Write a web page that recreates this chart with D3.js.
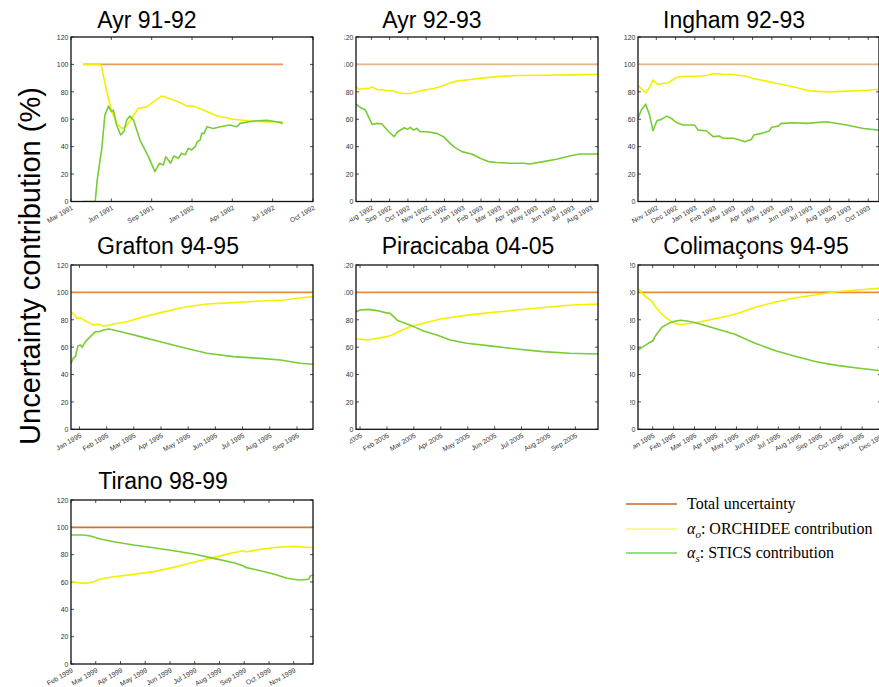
<!DOCTYPE html>
<html><head><meta charset="utf-8">
<script src="https://cdn.jsdelivr.net/npm/d3@7"></script>
<style>
html,body{margin:0;padding:0;background:#fff;}
svg{display:block;}
</style></head>
<body>
<script>
// ---------------- DATA ----------------
// x values are expressed in "tick units": 0 = first labelled tick, 1 = second, ...
const titles = ["Ayr 91-92","Ayr 92-93","Ingham 92-93","Grafton 94-95","Piracicaba 04-05","Colimaçons 94-95","Tirano 98-99"];

const tickLabels = [
  ["Mar 1991","Jun 1991","Sep 1991","Jan 1992","Apr 1992","Jul 1992","Oct 1992"],
  ["Aug 1992","Sep 1992","Oct 1992","Nov 1992","Dec 1992","Jan 1993","Feb 1993","Mar 1993","Apr 1993","May 1993","Jun 1993","Jul 1993","Aug 1993"],
  ["Nov 1992","Dec 1992","Jan 1993","Feb 1993","Mar 1993","Apr 1993","May 1993","Jun 1993","Jul 1993","Aug 1993","Sep 1993","Oct 1993"],
  ["Jan 1995","Feb 1995","Mar 1995","Apr 1995","May 1995","Jun 1995","Jul 1995","Aug 1995","Sep 1995"],
  ["Jan 2005","Feb 2005","Mar 2005","Apr 2005","May 2005","Jun 2005","Jul 2005","Aug 2005","Sep 2005"],
  ["Jan 1995","Feb 1995","Mar 1995","Apr 1995","May 1995","Jun 1995","Jul 1995","Aug 1995","Sep 1995","Oct 1995","Nov 1995","Dec 1995"],
  ["Feb 1999","Mar 1999","Apr 1999","May 1999","Jun 1999","Jul 1999","Aug 1999","Sep 1999","Oct 1999","Nov 1999"]
];
const xExtents = [[0,6],[-0.84,12.4],[-0.95,11.56],[-0.31,8.59],[-0.15,8.84],[-0.70,10.9],[0,9.78]];
const yTicks = [0,20,40,60,80,100,120];

const totalUncertainty = [
  [[0.3,100],[5.26,100]],
  [[-0.84,100],[12.4,100]],
  [[-0.95,100],[11.56,100]],
  [[-0.31,100],[8.59,100]],
  [[-0.15,100],[8.84,100]],
  [[-0.70,100],[10.9,100]],
  [[0,100],[9.78,100]]
];

const orchidee = [
  // Ayr 91-92
  [[0.3,100],[0.72,100],[0.76,98],[0.88,81],[1.0,66.7],[1.13,57],[1.26,53.3],[1.38,55],[1.5,60.6],[1.67,68],[1.88,69],[2.04,72.7],[2.25,77],[2.45,75],[2.66,72.7],[2.87,69.6],[3.03,69.6],[3.28,66.7],[3.61,62.5],[4.02,60],[4.44,58.7],[4.85,58],[5.25,58.4]],
  // Ayr 92-93
  [[-0.84,83.6],[-0.69,81.7],[-0.42,82.4],[-0.15,82.4],[0.04,83.6],[0.31,81.7],[0.76,81.2],[1.22,80.5],[1.67,78.8],[2.13,78.8],[2.49,80],[2.85,81.2],[3.4,82.4],[3.85,84.1],[4.22,86.1],[4.67,87.8],[5.4,89],[6.13,90.2],[6.85,91.1],[7.95,91.9],[9.4,92.1],[11.04,92.4],[12.4,92.8]],
  // Ingham 92-93
  [[-0.95,84.8],[-0.78,82.4],[-0.55,79.3],[-0.35,83.1],[-0.17,88.5],[0.09,85.3],[0.35,86.1],[0.61,86.5],[0.87,89],[1.13,90.9],[1.56,91.4],[2.08,91.4],[2.6,91.9],[2.95,93.3],[3.47,92.8],[3.99,92.6],[4.68,91.4],[5.03,89.7],[5.72,87.8],[6.24,86.1],[6.76,84.8],[7.45,82.4],[7.97,80.7],[8.84,80],[9.88,80.5],[10.92,81.2],[11.56,81.9]],
  // Grafton 94-95
  [[-0.31,86],[-0.21,84.2],[-0.09,81],[0.04,81.5],[0.16,79.8],[0.34,77.9],[0.53,76.2],[0.71,76.7],[0.89,75.5],[1.08,75.9],[1.26,76.9],[1.75,78.6],[2.24,81.5],[2.98,85.2],[3.84,89.1],[4.69,91.5],[5.67,92.5],[6.65,93.7],[7.51,94.4],[8.12,95.9],[8.59,96.9]],
  // Piracicaba 04-05
  [[-0.15,66],[0.07,65.7],[0.26,65.2],[0.63,66.4],[1.0,67.7],[1.19,68.9],[1.49,71.8],[1.86,75],[2.36,77.4],[2.98,80.6],[3.84,83],[4.83,85.2],[5.81,87.1],[6.93,89.1],[7.91,90.8],[8.84,91.5]],
  // Colimaçons 94-95
  [[-0.70,103],[-0.53,99.8],[-0.29,96.4],[-0.05,93.7],[0.11,90.1],[0.36,85.2],[0.68,81],[0.92,78.6],[1.17,76.7],[1.49,76.7],[1.82,77.4],[2.3,78.6],[2.95,80.8],[3.6,82.8],[4.08,84.7],[4.89,89.1],[5.87,93],[6.84,96.1],[7.81,98.3],[8.78,100.5],[9.76,101.7],[10.9,103]],
  // Tirano 98-99
  [[0,60.2],[0.31,59.5],[0.58,59],[0.92,60.2],[1.19,62.2],[1.73,63.9],[2.53,65.6],[3.34,67.6],[4.15,70.7],[4.96,74.4],[5.77,78],[6.58,81.5],[6.98,82.9],[7.05,82],[7.65,83.9],[8.33,85.4],[9.0,86.1],[9.78,85.1]]
];

const stics = [
  // Ayr 91-92
  [[0.3,0],[0.6,0],[0.65,15.8],[0.72,30],[0.76,37.6],[0.84,63],[0.93,69.6],[1.0,65.5],[1.05,66.7],[1.13,55.8],[1.23,48.5],[1.31,51],[1.38,59.4],[1.46,62.3],[1.55,59.4],[1.71,44.8],[1.92,32.7],[2.08,21.8],[2.19,27.9],[2.29,26.7],[2.35,32.7],[2.47,27.9],[2.55,33.2],[2.66,31.5],[2.74,35.2],[2.83,34],[2.91,38.8],[2.99,37.6],[3.08,40],[3.13,43.6],[3.2,44.8],[3.24,49.7],[3.3,49.7],[3.37,54.5],[3.53,53.3],[3.7,54.5],[3.94,55.8],[4.11,54.5],[4.19,57],[4.52,58.7],[4.85,59.2],[5.1,58.2],[5.25,57]],
  // Ayr 92-93
  [[-0.84,71],[-0.6,68.6],[-0.33,66.7],[0.04,56.2],[0.31,57],[0.58,56.5],[0.95,50.9],[1.25,47.3],[1.44,50.9],[1.8,53.8],[1.98,52.6],[2.13,54.1],[2.31,52.1],[2.49,53.3],[2.67,50.9],[3.04,50.9],[3.58,49.7],[3.95,47.3],[4.31,42.4],[4.58,39.3],[4.95,36.4],[5.49,34.7],[5.95,31.5],[6.4,29.1],[6.85,28.4],[7.58,27.9],[8.31,27.9],[8.67,27.4],[9.4,29.1],[10.13,30.8],[10.85,33.2],[11.4,34.7],[12.4,34.7]],
  // Ingham 92-93
  [[-0.95,60.6],[-0.78,66.7],[-0.55,71],[-0.35,63],[-0.17,51.6],[0.03,58.9],[0.26,59.9],[0.55,62.3],[0.78,60.6],[1.04,57.7],[1.39,55.8],[1.99,55.8],[2.17,52.1],[2.6,51.6],[2.95,47.3],[3.29,47.7],[3.47,46.1],[3.99,46.1],[4.33,44.8],[4.59,43.6],[4.94,45.3],[5.06,48.5],[5.46,49.7],[5.86,51.4],[5.98,54.1],[6.33,55],[6.5,57],[7.11,57.5],[7.8,57],[8.84,58.2],[9.88,55.8],[10.75,53.3],[11.56,52.1]],
  // Grafton 94-95
  [[-0.31,48.2],[-0.23,51.8],[-0.15,53],[-0.06,60.8],[0.04,61.6],[0.1,59.9],[0.22,64],[0.4,67.7],[0.59,71.3],[0.71,71.3],[0.89,72.5],[1.08,73.3],[1.26,72.5],[1.75,70.1],[2.24,67.7],[2.98,64],[3.84,59.6],[4.69,55.5],[5.67,53.1],[6.65,51.8],[7.39,50.6],[8.12,48.2],[8.59,47.5]],
  // Piracicaba 04-05
  [[-0.15,85.9],[0.01,87.1],[0.32,87.6],[0.63,86.7],[0.94,85.2],[1.12,84.7],[1.4,79.4],[1.62,77.9],[1.99,75],[2.36,71.8],[2.85,68.9],[3.35,65.2],[3.96,62.8],[4.83,60.9],[5.81,58.7],[6.8,56.7],[7.79,55.5],[8.84,55]],
  // Colimaçons 94-95
  [[-0.70,57.9],[-0.45,60.4],[-0.21,62.8],[0,64.5],[0.16,68.9],[0.44,74.5],[0.76,77.4],[1.09,79.1],[1.33,79.6],[1.65,79.1],[2.14,77.4],[2.95,73.8],[3.92,69.4],[4.89,62.8],[5.87,57.4],[6.84,53.1],[7.81,49.4],[8.78,46.7],[9.76,44.8],[10.9,42.8]],
  // Tirano 98-99
  [[0,94.4],[0.51,94.4],[0.78,93.7],[1.19,91.5],[1.73,89.5],[2.53,87.1],[3.34,85.1],[4.15,82.9],[4.96,80.5],[5.77,77.3],[6.58,74.1],[6.98,71.7],[7.05,70.7],[7.65,68.3],[8.19,65.9],[8.73,62.7],[9.2,61.5],[9.61,62],[9.68,64.6],[9.78,64.9]]
];

const legendLabels = ["Total uncertainty","ORCHIDEE contribution","STICS contribution"];
const yAxisLabel = "Uncertainty contribution (%)";

// ---------------- LAYOUT / STYLE ----------------
const W = 879, H = 687;
const panels = [
  {x0:71, x1:313, y0:37, y1:201.5, titleX:147, titleY:28, clipY:0, clipX:0, orange:"#ea9a5e"},
  {x0:356, x1:598, y0:37, y1:201.5, titleX:432, titleY:28, clipY:344.5, clipX:349.5, orange:"#e8b48a"},
  {x0:638, x1:879, y0:37, y1:201.5, titleX:734, titleY:28, clipY:0, clipX:0, orange:"#e8b48a"},
  {x0:71, x1:313, y0:265, y1:429.3, titleX:168, titleY:254, clipY:0, clipX:0, orange:"#ec8a3a"},
  {x0:356, x1:598, y0:265, y1:429.3, titleX:468, titleY:254, clipY:344.5, clipX:350, orange:"#ec8a3a"},
  {x0:638, x1:881, y0:265, y1:429.3, titleX:756, titleY:254, clipY:630, clipX:633, orange:"#ec8a3a"},
  {x0:71, x1:313, y0:500, y1:664, titleX:163, titleY:489, clipY:0, clipX:0, orange:"#c8782c"}
];
const YELLOW = "#f2f000", GREEN = "#78cc34";

const svg = d3.select("body").append("svg").attr("width", W).attr("height", H)
  .style("font-family","'Liberation Sans', Arial, sans-serif");
const defs = svg.append("defs");

panels.forEach((p, i) => {
  const x = d3.scaleLinear().domain(xExtents[i]).range([p.x0, p.x1]);
  const y = d3.scaleLinear().domain([0,120]).range([p.y1, p.y0]);
  const g = svg.append("g");

  defs.append("clipPath").attr("id","plot"+i).append("rect")
    .attr("x",p.x0).attr("y",p.y0-1).attr("width",p.x1-p.x0).attr("height",p.y1-p.y0+1);
  defs.append("clipPath").attr("id","labx"+i).append("rect")
    .attr("x",p.clipX).attr("y",0).attr("width",W).attr("height",H);
  defs.append("clipPath").attr("id","laby"+i).append("rect")
    .attr("x",p.clipY).attr("y",0).attr("width",W).attr("height",H);

  // title
  g.append("text").attr("x",p.titleX).attr("y",p.titleY).attr("text-anchor","middle")
    .attr("font-size",23).attr("fill","#000").text(titles[i]);

  const ticks = d3.range(tickLabels[i].length);

  // x axis (bottom) labels via d3 axis
  const xAxis = d3.axisBottom(x).tickValues(ticks).tickSize(0).tickPadding(0)
    .tickFormat(d => tickLabels[i][d]);
  const xa = g.append("g").attr("clip-path","url(#labx"+i+")")
    .append("g").attr("transform",`translate(0,${p.y1})`).call(xAxis);
  xa.select(".domain").remove();
  xa.selectAll("text").attr("font-size",6.8).attr("fill","#333")
    .attr("font-family","'Liberation Sans', Arial, sans-serif")
    .attr("text-anchor","end").attr("dy",null).attr("y",null)
    .attr("transform","translate(2,7.5) rotate(-30)");

  // y axis labels
  const yAxis = d3.axisLeft(y).tickValues(yTicks).tickSize(0).tickPadding(2.5);
  const ya = g.append("g").attr("clip-path","url(#laby"+i+")")
    .append("g").attr("transform",`translate(${p.x0},0)`).call(yAxis);
  ya.select(".domain").remove();
  ya.selectAll("text").attr("font-size",7).attr("fill","#333")
    .attr("font-family","'Liberation Sans', Arial, sans-serif");

  // inward tick marks on all four sides
  const tk = g.append("g").attr("stroke","#222").attr("stroke-width",0.8);
  ticks.forEach(t => {
    const xx = x(t);
    if (xx < p.x0-0.5 || xx > p.x1+0.5) return;
    tk.append("line").attr("x1",xx).attr("x2",xx).attr("y1",p.y1).attr("y2",p.y1-3);
    tk.append("line").attr("x1",xx).attr("x2",xx).attr("y1",p.y0).attr("y2",p.y0+3);
  });
  yTicks.forEach(v => {
    const yy = y(v);
    tk.append("line").attr("x1",p.x0).attr("x2",p.x0+3).attr("y1",yy).attr("y2",yy);
    tk.append("line").attr("x1",p.x1).attr("x2",p.x1-3).attr("y1",yy).attr("y2",yy);
  });

  // series
  const line = d3.line().x(d => x(d[0])).y(d => y(d[1]));
  const pg = g.append("g").attr("clip-path","url(#plot"+i+")").attr("fill","none");
  pg.append("path").datum(totalUncertainty[i]).attr("d",line).attr("stroke",p.orange).attr("stroke-width",1.6);
  pg.append("path").datum(orchidee[i]).attr("d",line).attr("stroke",YELLOW).attr("stroke-width",1.6).attr("stroke-linejoin","round");
  pg.append("path").datum(stics[i]).attr("d",line).attr("stroke",GREEN).attr("stroke-width",1.6).attr("stroke-linejoin","round");

  // frame
  g.append("rect").attr("x",p.x0).attr("y",p.y0).attr("width",p.x1-p.x0).attr("height",p.y1-p.y0)
    .attr("fill","none").attr("stroke","#111").attr("stroke-width",1.3);
});

// shared y label
svg.append("text").attr("transform","translate(40,266) rotate(-90)").attr("text-anchor","middle")
  .attr("font-size",29).attr("fill","#000").text(yAxisLabel);

// legend
const legendColors = ["#c8642a","#f4f47a","#77d455"];
const ly = [504, 529, 553];
const lgd = svg.append("g").attr("font-family","'Liberation Serif','Times New Roman',serif").attr("font-size",16).attr("fill","#000");
legendLabels.forEach((lab, k) => {
  lgd.append("line").attr("x1",626).attr("x2",677).attr("y1",ly[k]).attr("y2",ly[k])
    .attr("stroke",legendColors[k]).attr("stroke-width",1.6);
  const t = lgd.append("text").attr("x",687).attr("y",ly[k]+5);
  if (k === 0) { t.text(lab); }
  else {
    t.append("tspan").attr("font-style","italic").text("α");
    t.append("tspan").attr("font-style","italic").attr("font-size",11).attr("dy",4).text(k === 1 ? "o" : "s");
    t.append("tspan").attr("dy",-4).text(": " + lab);
  }
});
</script>
</body></html>
